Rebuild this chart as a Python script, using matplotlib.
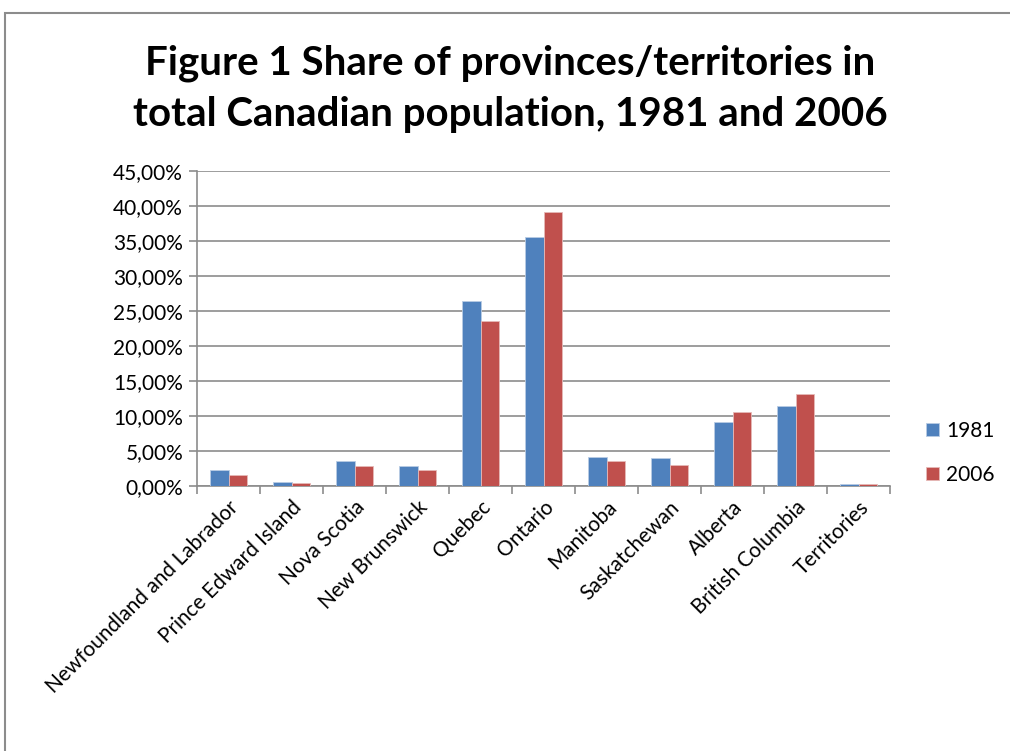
import numpy as np
import matplotlib.pyplot as plt
from matplotlib.patches import Rectangle
from matplotlib.ticker import FuncFormatter, FixedLocator

provinces = ["Newfoundland and Labrador", "Prince Edward Island", "Nova Scotia",
             "New Brunswick", "Quebec", "Ontario", "Manitoba", "Saskatchewan",
             "Alberta", "British Columbia", "Territories"]
share_1981 = [2.3, 0.5, 3.5, 2.9, 26.4, 35.5, 4.2, 4.0, 9.2, 11.4, 0.3]
share_2006 = [1.6, 0.4, 2.9, 2.3, 23.5, 39.1, 3.6, 3.0, 10.5, 13.1, 0.3]
series = ["1981", "2006"]
colors = ["#4F81BD", "#C0504D"]

plt.rcParams['font.family'] = ['Lato', 'DejaVu Sans']

fig = plt.figure(figsize=(10.1, 7.51), dpi=100)
ax = fig.add_axes([197 / 1010, 1 - 486 / 751, 693 / 1010, (486 - 170.7) / 751])

# outer chart border
fig.patches.append(Rectangle((5 / 1010, -0.01), 1.1, 1 - 13 / 751 + 0.01,
                             transform=fig.transFigure, fill=False,
                             edgecolor="#8c8c8c", lw=1.5))

x = np.arange(len(provinces))
w = 0.3
ax.bar(x - w / 2, share_1981, w, color=colors[0], edgecolor="#b8cce4", lw=0.6, label=series[0], zorder=3)
ax.bar(x + w / 2, share_2006, w, color=colors[1], edgecolor="#e6b9b8", lw=0.6, label=series[1], zorder=3)

ax.set_xlim(-0.5, len(provinces) - 0.5)
ax.set_ylim(0, 45)
ax.set_yticks(np.arange(0, 46, 5))
ax.yaxis.set_major_formatter(FuncFormatter(lambda v, p: f"{v:.2f}%".replace(".", ",")))
ax.yaxis.grid(True, color="#8c8c8c", lw=1.2, zorder=0)
ax.set_xticks(x)
ax.set_xticklabels(provinces, rotation=45, ha="right", rotation_mode="anchor", fontsize=15)
ax.tick_params(axis="x", length=0, pad=8)
ax.xaxis.set_minor_locator(FixedLocator(np.arange(-0.5, len(provinces), 1)))
ax.tick_params(axis="x", which="minor", length=6, color="#8c8c8c", width=1.2)
ax.tick_params(axis="y", length=6, color="#8c8c8c", width=1.2, labelsize=15, pad=4)

for s in ["top", "right"]:
    ax.spines[s].set_visible(False)
for s in ["left", "bottom"]:
    ax.spines[s].set_color("#8c8c8c")
    ax.spines[s].set_linewidth(1.2)

ax.legend(loc="center left", bbox_to_anchor=(1.025, 0.105), frameon=False,
          fontsize=15, handlelength=0.6, handleheight=0.6, handletextpad=0.35,
          labelspacing=1.15)

fig.text(0.505, 1 - 89 / 751, "Figure 1 Share of provinces/territories in\ntotal Canadian population, 1981 and 2006",
         ha="center", va="center", fontsize=29, fontweight="bold", linespacing=1.45)

fig.savefig("out.png", dpi=100)
